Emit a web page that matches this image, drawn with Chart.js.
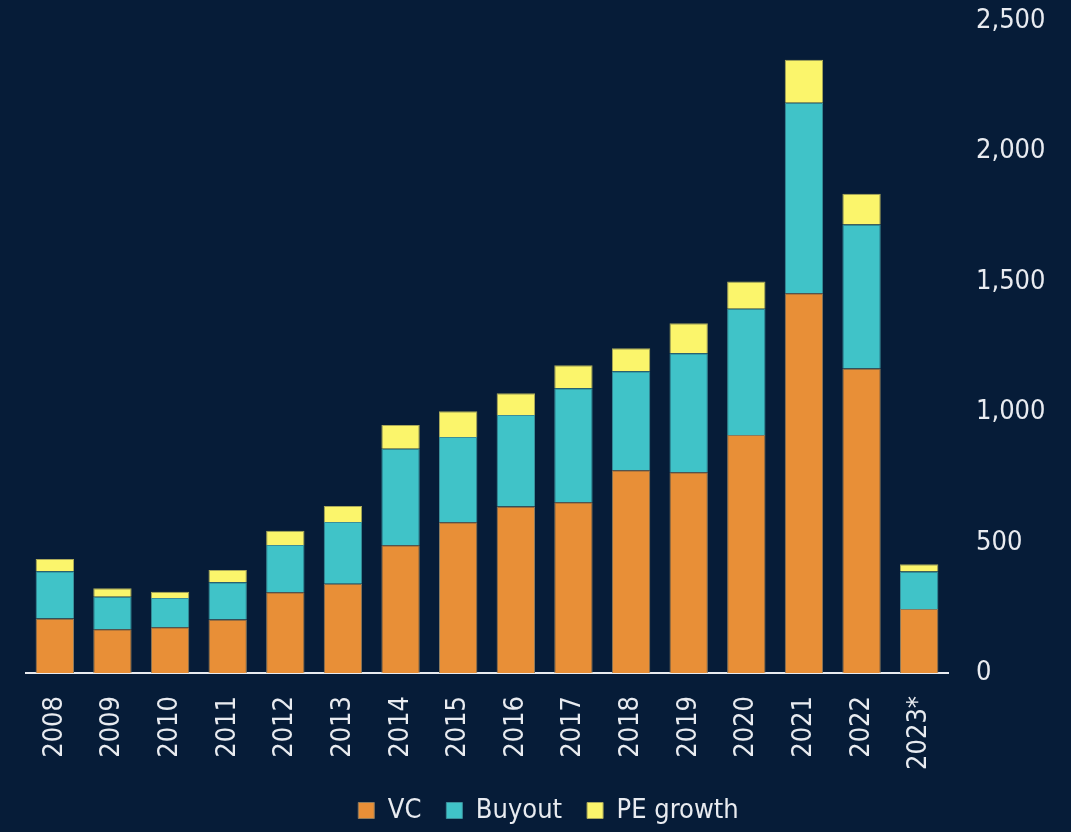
<!DOCTYPE html>
<html>
<head>
<meta charset="utf-8">
<title>Deal value by type</title>
<script src="https://cdn.jsdelivr.net/npm/chart.js@4/dist/chart.umd.min.js"></script>
<style>
  html, body { margin: 0; padding: 0; background: #061c38; }
  #wrap { width: 1071px; height: 832px; }
</style>
</head>
<body>
<div id="wrap"><canvas id="dealChart" width="1071" height="832"></canvas></div>
<script>
const years = ['2008', '2009', '2010', '2011', '2012', '2013', '2014', '2015', '2016', '2017', '2018', '2019', '2020', '2021', '2022', '2023*'];
const vc = [209, 168, 175, 205, 310, 342, 490, 578, 638, 655, 777, 770, 913, 1456, 1168, 245];
const buyout = [181, 124, 113, 143, 181, 237, 370, 327, 351, 437, 380, 456, 484, 731, 552, 144];
const peGrowth = [47, 33, 24, 47, 54, 61, 91, 99, 84, 88, 88, 115, 104, 164, 118, 28];

const textColor = '#e8ebf0';

// pick a narrow face if one is installed, otherwise a plain sans at a smaller size
function fontInstalled(name) {
    const c = document.createElement('canvas').getContext('2d');
    const sample = '2,500 Buyout PE growth';
    for (const base of ['monospace', 'serif']) {
        c.font = '30px ' + base;
        const w0 = c.measureText(sample).width;
        c.font = '30px "' + name + '", ' + base;
        if (c.measureText(sample).width !== w0) return true;
    }
    return false;
}

let fontFamily = 'Roboto, "Open Sans", sans-serif';
let fontSize = 26;
let fontWeight = 300;
for (const name of ['Liberation Sans Narrow', 'DejaVu Sans Condensed', 'Roboto Condensed']) {
    if (fontInstalled(name)) {
        fontFamily = '"' + name + '", sans-serif';
        fontSize = 27;
        fontWeight = 'normal';
        break;
    }
}
const font = { family: fontFamily, size: fontSize, weight: fontWeight };

function series(label, data, color, edge) {
    return {
        label: label,
        data: data,
        backgroundColor: color,
        borderColor: edge,
        borderWidth: 1,
        barPercentage: 0.666,
        categoryPercentage: 1
    };
}

const ctx = document.getElementById('dealChart').getContext('2d');
new Chart(ctx, {
    type: 'bar',
    data: {
        labels: years,
        datasets: [
            series('VC', vc, '#e88f37', '#8c7a5e'),
            series('Buyout', buyout, '#40c3c8', '#3a8f9a'),
            series('PE growth', peGrowth, '#fbf56b', '#a9a85a')
        ]
    },
    options: {
        responsive: false,
        animation: false,
        locale: 'en-US',
        layout: { padding: { left: 26, right: 0, top: 21, bottom: -2 } },
        plugins: {
            legend: {
                position: 'bottom',
                labels: {
                    color: textColor,
                    font: font,
                    boxWidth: 16,
                    boxHeight: 16,
                    padding: 25
                }
            },
            tooltip: { enabled: false }
        },
        scales: {
            x: {
                stacked: true,
                grid: { display: false, drawTicks: false },
                border: { display: true, color: '#e8ebf0', width: 2 },
                ticks: {
                    color: textColor,
                    font: font,
                    minRotation: 90,
                    maxRotation: 90,
                    padding: 23
                },
                afterFit: (scale) => { scale.height = 99; }
            },
            y: {
                stacked: true,
                position: 'right',
                min: 0,
                max: 2500,
                grid: { display: false, drawTicks: false },
                border: { display: false },
                ticks: {
                    stepSize: 500,
                    color: textColor,
                    font: font,
                    padding: 28
                },
                // fixed axis width; the value labels may overhang the plot edges
                afterFit: (scale) => {
                    scale.width = 123;
                    scale.paddingTop = 0;
                    scale.paddingBottom = 0;
                }
            }
        }
    }
});
</script>
</body>
</html>
